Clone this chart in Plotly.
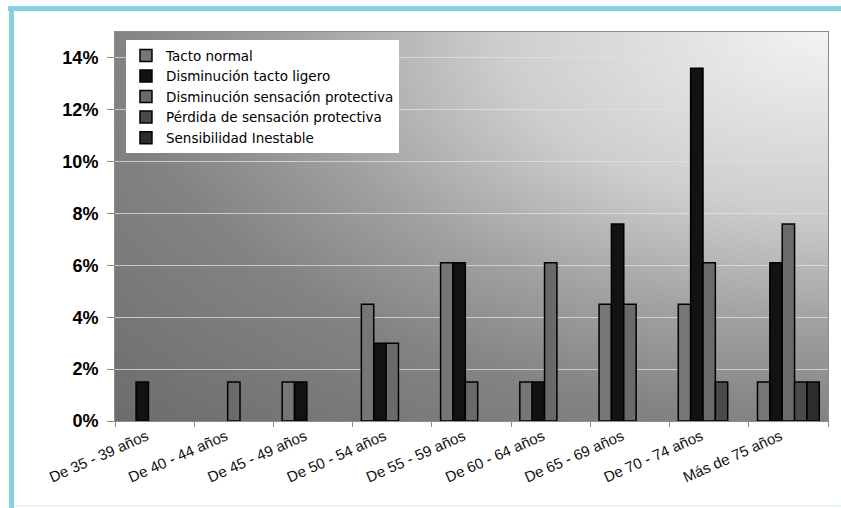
import base64
import plotly.graph_objects as go

categories = ["De 35 - 39 años", "De 40 - 44 años", "De 45 - 49 años", "De 50 - 54 años",
              "De 55 - 59 años", "De 60 - 64 años", "De 65 - 69 años", "De 70 - 74 años",
              "Más de 75 años"]

tacto_normal = [None, None, 0.015, 0.045, 0.061, 0.015, 0.045, 0.045, 0.015]
dism_tacto_ligero = [0.015, None, 0.015, 0.030, 0.061, 0.015, 0.076, 0.136, 0.061]
dism_sens_protectiva = [None, 0.015, None, 0.030, 0.015, 0.061, 0.045, 0.061, 0.076]
perdida_sens_protectiva = [None, None, None, None, None, None, None, 0.015, 0.015]
sens_inestable = [None, None, None, None, None, None, None, None, 0.015]

series_names = ["Tacto normal", "Disminución tacto ligero", "Disminución sensación protectiva",
                "Pérdida de sensación protectiva", "Sensibilidad Inestable"]
series_values = [tacto_normal, dism_tacto_ligero, dism_sens_protectiva,
                 perdida_sens_protectiva, sens_inestable]
series_colors = ["#767676", "#121212", "#6a6a6a", "#4a4a4a", "#2c2c2c"]

y_tickvals = [0, 0.02, 0.04, 0.06, 0.08, 0.10, 0.12, 0.14]

# background gradient for the plot area (light in the upper-right corner)
svg = (
    '<svg xmlns="http://www.w3.org/2000/svg" width="713" height="389" viewBox="0 0 713 389" '
    'preserveAspectRatio="none">'
    '<defs><radialGradient id="g" gradientUnits="objectBoundingBox" cx="1" cy="0" fx="1" fy="0" r="1.42">'
    '<stop offset="0" stop-color="#f3f3f3"/>'
    '<stop offset="0.32" stop-color="#cecece"/>'
    '<stop offset="0.53" stop-color="#a0a0a0"/>'
    '<stop offset="0.70" stop-color="#838383"/>'
    '<stop offset="1" stop-color="#6c6c6c"/>'
    '</radialGradient></defs>'
    '<rect x="0" y="0" width="713" height="389" fill="url(#g)"/></svg>'
)
svg_uri = "data:image/svg+xml;base64," + base64.b64encode(svg.encode("utf-8")).decode("ascii")

fig = go.Figure()
for name, vals, col in zip(series_names, series_values, series_colors):
    fig.add_trace(go.Bar(
        x=categories, y=vals, name=name,
        marker=dict(color=col, line=dict(color="#000000", width=1.5)),
        hoverinfo="skip",
    ))

fig.update_layout(
    width=841, height=508,
    margin=dict(l=115, r=13, t=32, b=87),
    paper_bgcolor="white",
    plot_bgcolor="rgba(0,0,0,0)",
    barmode="group",
    bargap=0.22,
    bargroupgap=0,
    font=dict(family="Liberation Sans, Arial, sans-serif", color="#000000"),
    legend=dict(
        x=0.0154, y=0.979, xanchor="left", yanchor="top",
        bgcolor="white", borderwidth=0,
        font=dict(size=13.5, color="#000000", family="DejaVu Sans, sans-serif"),
        tracegroupgap=0,
    ),
    images=[dict(
        source=svg_uri, xref="paper", yref="paper", x=0, y=1, sizex=1, sizey=1,
        xanchor="left", yanchor="top", sizing="stretch", layer="below",
    )],
    shapes=[
        dict(type="rect", xref="paper", yref="paper",
             x0=(8 - 115) / 713, x1=(841 - 115) / 713,
             y0=(421 - 11) / 389, y1=(421 - 6) / 389,
             fillcolor="#86d1e1", line=dict(width=0), layer="above"),
        dict(type="rect", xref="paper", yref="paper",
             x0=(9 - 115) / 713, x1=(14 - 115) / 713,
             y0=(421 - 508) / 389, y1=(421 - 6) / 389,
             fillcolor="#86d1e1", line=dict(width=0), layer="above"),
        dict(type="line", xref="paper", yref="paper",
             x0=(14 - 115) / 713, x1=(841 - 115) / 713,
             y0=(421 - 506) / 389, y1=(421 - 506) / 389,
             line=dict(color="#e4f2f6", width=1.5), layer="above"),
    ],
)

fig.update_xaxes(
    tickangle=-24,
    tickfont=dict(size=15, color="#111111"),
    ticklabelshift=-8,
    ticks="outside", tickson="boundaries", ticklen=5, tickcolor="#8c8c8c",
    showline=True, linecolor="#8c8c8c", linewidth=1, mirror=True,
    showgrid=False,
)
fig.update_yaxes(
    range=[0, 0.15],
    tickvals=y_tickvals,
    tickformat=".0%",
    tickfont=dict(size=18, color="#000000", weight="bold"),
    ticks="outside", ticklen=7, tickcolor="#8c8c8c",
    ticklabelstandoff=5,
    showline=True, linecolor="#8c8c8c", linewidth=1, mirror=True,
    showgrid=True, gridcolor="rgba(225,225,225,0.75)", gridwidth=1,
    zeroline=False,
)

fig.write_html("out.html", config={"displayModeBar": False},
               post_script="document.body.style.margin='0px';")
